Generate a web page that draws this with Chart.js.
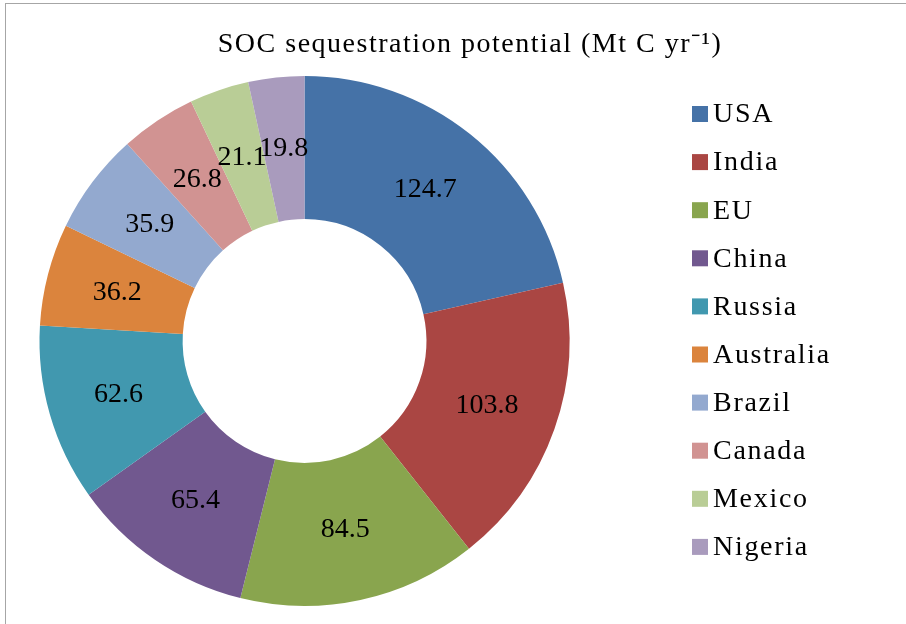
<!DOCTYPE html>
<html>
<head>
<meta charset="utf-8">
<script src="https://cdn.jsdelivr.net/npm/chart.js@4.4.1/dist/chart.umd.min.js"></script>
<style>
  html, body { margin: 0; padding: 0; background: #fff; }
  #wrap { width: 906px; height: 624px; position: relative; }
</style>
</head>
<body>
<div id="wrap"><canvas id="socChart" width="906" height="624"></canvas></div>
<script>
'use strict';

// ─── Data ───
const countries = ['USA', 'India', 'EU', 'China', 'Russia', 'Australia', 'Brazil', 'Canada', 'Mexico', 'Nigeria'];
const sequestration = [124.7, 103.8, 84.5, 65.4, 62.6, 36.2, 35.9, 26.8, 21.1, 19.8];
const sliceColors = ['#4572A7', '#AA4643', '#89A54E', '#71588F', '#4198AF', '#DB843D', '#93A9CF', '#D19392', '#B9CD96', '#A99BBD'];
const chartTitle = 'SOC sequestration potential (Mt C yr⁻¹)';

const SERIF = '"Liberation Serif", "Times New Roman", serif';

// frame + title + legend + slice labels, all drawn on the canvas
const decorations = {
  id: 'decorations',
  beforeDraw(chart) {
    const ctx = chart.ctx;
    ctx.save();
    ctx.strokeStyle = '#a6a6a6';
    ctx.lineWidth = 1;
    ctx.strokeRect(5.5, 3.5, 920, 640);
    ctx.restore();
  },
  afterDatasetsDraw(chart) {
    const ctx = chart.ctx;
    const meta = chart.getDatasetMeta(0);
    ctx.save();
    ctx.fillStyle = '#000';
    ctx.textBaseline = 'middle';
    ctx.textAlign = 'center';
    ctx.font = '28px ' + SERIF;
    ctx.letterSpacing = '1.5px';
    ctx.fillText(chartTitle, 470, 45);
    ctx.letterSpacing = '0px';

    // slice values at the middle of each ring segment
    meta.data.forEach((arc, i) => {
      const p = arc.getCenterPoint();
      ctx.fillText(String(sequestration[i]), p.x, p.y);
    });

    // legend
    ctx.textAlign = 'left';
    ctx.letterSpacing = '1.7px';
    countries.forEach((name, i) => {
      const y = 114 + i * 48.1;
      ctx.fillStyle = sliceColors[i];
      ctx.fillRect(692, y - 8, 16, 16);
      ctx.fillStyle = '#000';
      ctx.fillText(name, 713, y + 1);
    });
    ctx.restore();
  }
};

new Chart(document.getElementById('socChart'), {
  type: 'doughnut',
  data: {
    labels: countries,
    datasets: [{
      data: sequestration,
      backgroundColor: sliceColors,
      borderWidth: 0,
    }],
  },
  options: {
    responsive: false,
    animation: false,
    cutout: '46%',
    layout: { padding: { left: 38, right: 335, top: 76, bottom: 18 } },
    plugins: {
      legend: { display: false },
      title: { display: false },
      tooltip: { enabled: false },
    },
  },
  plugins: [decorations],
});
</script>
</body>
</html>
